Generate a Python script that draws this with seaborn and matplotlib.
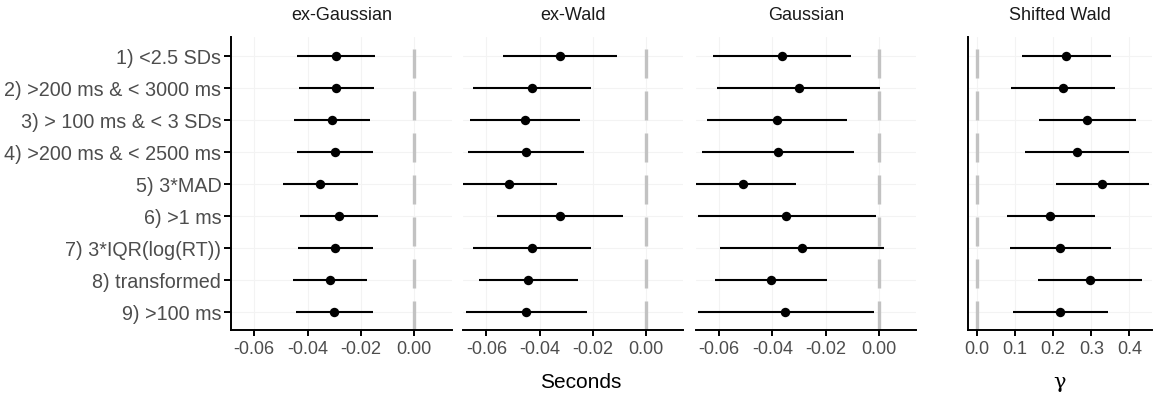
import numpy as np
import pandas as pd
import matplotlib
matplotlib.use("Agg")
import matplotlib.pyplot as plt
import seaborn as sns

methods = ["1) <2.5 SDs", "2) >200 ms & < 3000 ms", "3) > 100 ms & < 3 SDs",
           "4) >200 ms & < 2500 ms", "5) 3*MAD", "6) >1 ms",
           "7) 3*IQR(log(RT))", "8) transformed", "9) >100 ms"]
models = ["ex-Gaussian", "ex-Wald", "Gaussian", "Shifted Wald"]

exg_est = [-0.0295, -0.0294, -0.0308, -0.0299, -0.0353, -0.0281, -0.0296, -0.0315, -0.0301]
exg_lo = [-0.0439, -0.0434, -0.0450, -0.0439, -0.0494, -0.0428, -0.0436, -0.0455, -0.0445]
exg_hi = [-0.0149, -0.0151, -0.0165, -0.0156, -0.0211, -0.0136, -0.0154, -0.0177, -0.0156]

exw_est = [-0.0323, -0.0429, -0.0454, -0.0450, -0.0516, -0.0323, -0.0428, -0.0444, -0.0450]
exw_lo = [-0.0537, -0.0652, -0.0662, -0.0668, -0.0690, -0.0559, -0.0649, -0.0628, -0.0676]
exw_hi = [-0.0108, -0.0206, -0.0248, -0.0233, -0.0333, -0.0085, -0.0206, -0.0257, -0.0221]

gau_est = [-0.0364, -0.0301, -0.0384, -0.0379, -0.0509, -0.0348, -0.0290, -0.0405, -0.0352]
gau_lo = [-0.0623, -0.0608, -0.0645, -0.0664, -0.0690, -0.0679, -0.0598, -0.0617, -0.0680]
gau_hi = [-0.0104, 0.0003, -0.0119, -0.0092, -0.0311, -0.0012, 0.0018, -0.0194, -0.0018]

sw_est = [0.235, 0.226, 0.289, 0.262, 0.329, 0.193, 0.219, 0.297, 0.218]
sw_lo = [0.119, 0.090, 0.163, 0.126, 0.208, 0.078, 0.086, 0.160, 0.094]
sw_hi = [0.352, 0.362, 0.416, 0.399, 0.450, 0.309, 0.352, 0.434, 0.343]

sec_ticks = [-0.06, -0.04, -0.02, 0.00]
gam_ticks = [0.0, 0.1, 0.2, 0.3, 0.4]

series = {
    "ex-Gaussian": (exg_est, exg_lo, exg_hi),
    "ex-Wald": (exw_est, exw_lo, exw_hi),
    "Gaussian": (gau_est, gau_lo, gau_hi),
    "Shifted Wald": (sw_est, sw_lo, sw_hi),
}
rows = []
for m in models:
    e, lo, hi = series[m]
    for i, meth in enumerate(methods):
        rows.append({"model": m, "method": meth, "est": e[i], "lo": lo[i], "hi": hi[i]})
df = pd.DataFrame(rows)

sns.set_theme(style="white")
plt.rcParams["font.family"] = ["Liberation Sans", "DejaVu Sans"]
plt.rcParams["axes.unicode_minus"] = False

W, H = 1153, 403
fig = plt.figure(figsize=(W / 100, H / 100), dpi=100)

top_px, bot_px = 37, 330
row1_px, row_sp = 56, 32
panels_px = [(231, 451.7), (463.3, 683), (696, 916), (967.7, 1152)]
tick_col = "#4D4D4D"
fs_x = 13
fs_y = 14.2

for k, m in enumerate(models):
    x0, x1 = panels_px[k]
    ax = fig.add_axes([x0 / W, (H - bot_px) / H, (x1 - x0) / W, (bot_px - top_px) / H])
    sub = df[df.model == m]
    ax.grid(True, color="#F3F3F3", lw=0.8)
    ax.set_axisbelow(True)
    ax.axvline(0, color="#C2C2C2", lw=2.4, linestyle=(0, (8.7, 3.9)), zorder=1)
    ax.hlines(y=sub["method"], xmin=sub["lo"], xmax=sub["hi"], color="black", lw=1.5, zorder=2)
    sns.scatterplot(data=sub, x="est", y="method", ax=ax, color="black", s=46,
                    edgecolor="black", linewidth=0, zorder=3, legend=False)
    ax.set_ylim((bot_px - row1_px) / row_sp, (top_px - row1_px) / row_sp)
    if k < 3:
        ax.set_xlim(-0.0687, 0.014)
        ax.set_xticks(sec_ticks)
        ax.set_xticklabels([f"{t:.2f}" for t in sec_ticks])
    else:
        ax.set_xlim(-0.0236, 0.459)
        ax.set_xticks(gam_ticks)
        ax.set_xticklabels([f"{t:.1f}" for t in gam_ticks])
    ax.set_xlabel("")
    ax.set_ylabel("")
    for s in ["top", "right"]:
        ax.spines[s].set_visible(False)
    ax.spines["bottom"].set_color("black")
    ax.spines["bottom"].set_linewidth(1.4)
    ax.spines["left"].set_color("black")
    ax.spines["left"].set_linewidth(1.4)
    ax.tick_params(axis="x", length=4.5, width=1.4, color="black", pad=3.5,
                   labelsize=fs_x, labelcolor=tick_col, bottom=True)
    if k == 0:
        ax.tick_params(axis="y", length=5, width=1.4, color="black", pad=2,
                       labelsize=fs_y, labelcolor=tick_col, left=True)
    else:
        ax.tick_params(axis="y", left=False, labelleft=False)
        if k in (1, 2):
            ax.spines["left"].set_visible(False)
    fig.text((x0 + x1) / 2 / W, 1 - 15 / H, m, ha="center", va="center",
             fontsize=fs_x, color="#1A1A1A")

fig.text(581 / W, 1 - 383 / H, "Seconds", ha="center", va="center", fontsize=15, color="black")
fig.text(1060 / W, 1 - 383 / H, "γ", ha="center", va="center", fontsize=15,
         color="black", family=["DejaVu Serif"])

fig.savefig("out.png", dpi=100)
